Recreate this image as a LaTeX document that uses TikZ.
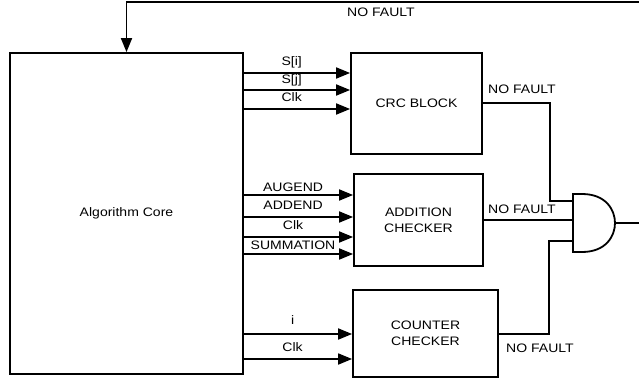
\documentclass[tikz,border=0pt]{standalone}
\usepackage{fontspec}
\setmainfont{Liberation Sans}[FakeStretch=1.14]
\usetikzlibrary{arrows.meta}
\begin{document}
\begin{tikzpicture}[
	x=1pt, y=-1pt,
	line width=1.8pt,
	font=\fontsize{12.3}{14}\selectfont,
	blk/.style={draw, align=center, inner sep=0pt},
	sig/.style={-{Triangle[length=14pt,width=11pt]}},
	lbl/.style={inner sep=0pt, anchor=base, pos=0.45},
	note/.style={inner sep=0pt}
	]
	\useasboundingbox (0,0) rectangle (639,380);
	
	\node[blk, minimum width=233pt, minimum height=321pt] (core) at (126.5,213.5) {Algorithm Core};
	\node[blk, minimum width=131pt, minimum height=101pt] (crc)  at (416.5,103.5) {CRC BLOCK};
	\node[blk, minimum width=129pt, minimum height=92pt]  (add)  at (418.5,220) {ADDITION\\[2pt]CHECKER};
	\node[blk, minimum width=145pt, minimum height=87pt]  (cnt)  at (425.5,333.5) {COUNTER\\[2pt]CHECKER};
	
	% inputs
	\draw[sig] (core.east |- 0,73)  -- (crc.west |- 0,73)  node[lbl, yshift=8pt] {S[i]};
	\draw[sig] (core.east |- 0,90)  -- (crc.west |- 0,90)  node[lbl, yshift=7pt] {S[j]};
	\draw[sig] (core.east |- 0,109) -- (crc.west |- 0,109) node[lbl, yshift=8pt] {Clk};
	
	\draw[sig] (core.east |- 0,195) -- (add.west |- 0,195) node[lbl, yshift=4pt] {AUGEND};
	\draw[sig] (core.east |- 0,217) -- (add.west |- 0,217) node[lbl, yshift=8pt] {ADDEND};
	\draw[sig] (core.east |- 0,237) -- (add.west |- 0,237) node[lbl, yshift=8pt] {Clk};
	\draw[sig] (core.east |- 0,254) -- (add.west |- 0,254) node[lbl, yshift=5pt] {SUMMATION};
	
	\draw[sig] (core.east |- 0,334) -- (cnt.west |- 0,334) node[lbl, yshift=10pt] {i};
	\draw[sig] (core.east |- 0,359) -- (cnt.west |- 0,359) node[lbl, yshift=8pt] {Clk};
	
	% and gate
	\draw (573,194) -- (582,194) .. controls (606,194) and (615,210) .. (615,223)
		.. controls (615,236) and (606,252) .. (582,252) -- (573,252) -- cycle;
	\coordinate (g1) at (573,201);
	\coordinate (g2) at (573,220);
	\coordinate (g3) at (573,241);
	\coordinate (gout) at (615,223);
	\coordinate (out) at (639,223);
	\coordinate (fb) at (639,2);
	
	\draw (crc.east |- 0,103) -- ++(67,0) |- (g1);
	\draw (add.east |- 0,220) -- (g2);
	\draw (cnt.east |- 0,334) -- ++(50,0) |- (g3);
	\draw (gout) -- (out);
	\draw[sig] (fb) -| (core.north);
	
	\node[note] (nf0) at (381,12)  {NO FAULT};
	\node[note] (nf1) at (522,89)  {NO FAULT};
	\node[note] (nf2) at (522,209) {NO FAULT};
	\node[note] (nf3) at (540,348) {NO FAULT};
	
\end{tikzpicture}
\end{document}
